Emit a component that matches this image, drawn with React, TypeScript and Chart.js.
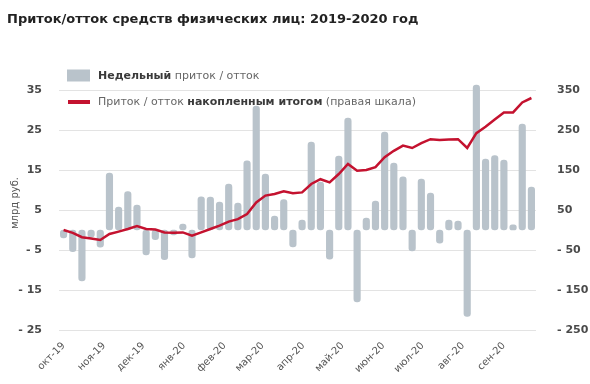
import React, { useEffect, useRef } from "react";
import { Chart, registerables } from "chart.js";

Chart.register(...registerables);

const TITLE = "Приток/отток средств физических лиц: 2019-2020 год";
const Y_TITLE = "млрд руб.";

const START_DATE = "2019-10-01";

// weekly flow, bn rub (left axis)
const weeklyFlow = [
  -2, -5.4, -12.7, -1.8, -4.3, 14.2, 5.7, 9.6, 6.2, -6.2,
  -2.4, -7.4, -1.2, 1.5, -7, 8.3, 8.2, 7, 11.5, 6.7,
  17.3, 31, 14, 3.5, 7.6, -4.2, 2.5, 22, 12, -7.3,
  18.5, 28, -18, 3, 7.2, 24.5, 16.7, 13.3, -5.2, 12.7,
  9.2, -3.3, 2.5, 2.2, -21.6, 36.2, 17.7, 18.6, 17.5, 1.3,
  26.5, 10.7,
];

// cumulative flow, bn rub (right axis)
const cumulativeFlow = [
  0, -7, -18, -21, -25, -10, -4, 2.5, 10, 2.5,
  1, -6, -7, -6, -14, -6, 2.5, 11, 21, 27,
  40, 69, 86, 90, 97, 92, 94, 115, 127, 119,
  140, 165, 148, 150, 157, 182, 198, 211, 205, 217,
  227, 225, 226, 227, 205, 242, 258, 276, 294, 294,
  319, 330,
];

const monthLabels = [
  "окт-19", "ноя-19", "дек-19", "янв-20", "фев-20", "мар-20",
  "апр-20", "май-20", "июн-20", "июл-20", "авг-20", "сен-20",
];
const monthStartDates = [
  "2019-10-01", "2019-11-01", "2019-12-01", "2020-01-01", "2020-02-01", "2020-03-01",
  "2020-04-01", "2020-05-01", "2020-06-01", "2020-07-01", "2020-08-01", "2020-09-01",
];

const legendRow1 = [
  { text: "Недельный", bold: true },
  { text: " приток / отток", bold: false },
];
const legendRow2 = [
  { text: "Приток / отток ", bold: false },
  { text: "накопленным итогом", bold: true },
  { text: " (правая шкала)", bold: false },
];

const BAR_COLOR = "#b9c3cb";
const LINE_COLOR = "#c4122f";
const FONT = '"DejaVu Sans", Verdana, sans-serif';

const DAY = 86400000;
const startMs = Date.parse(START_DATE);
const dayOffset = (d: string) => Math.round((Date.parse(d) - startMs) / DAY);
const monthTickDays = monthStartDates.map(dayOffset);
const weekDays = weeklyFlow.map((_, i) => i * 7);

const fmt = (v: number) => (v < 0 ? "- " + Math.abs(v) : String(v));

const overlayPlugin = {
  id: "overlay",
  afterDraw(chart: any) {
    const ctx = chart.ctx as CanvasRenderingContext2D;
    ctx.save();
    ctx.textBaseline = "middle";
    ctx.textAlign = "left";
    // title
    ctx.font = `bold 13px ${FONT}`;
    ctx.fillStyle = "#222";
    ctx.fillText(TITLE, 7, 20);

    // y axis title
    ctx.save();
    ctx.translate(15, 203);
    ctx.rotate(-Math.PI / 2);
    ctx.textAlign = "center";
    ctx.font = `10px ${FONT}`;
    ctx.fillStyle = "#555";
    ctx.fillText(Y_TITLE, 0, 0);
    ctx.restore();

    // legend
    ctx.fillStyle = BAR_COLOR;
    ctx.fillRect(67, 69.5, 23, 12);
    ctx.fillStyle = LINE_COLOR;
    ctx.fillRect(68, 100, 22, 4);

    const drawRow = (segs: { text: string; bold: boolean }[], x: number, y: number) => {
      let cx = x;
      for (const s of segs) {
        ctx.font = `${s.bold ? "bold " : ""}11px ${FONT}`;
        ctx.fillStyle = s.bold ? "#3a3a3a" : "#666";
        ctx.fillText(s.text, cx, y);
        cx += ctx.measureText(s.text).width;
      }
    };
    drawRow(legendRow1, 98, 76);
    drawRow(legendRow2, 98, 102.5);
    ctx.restore();
  },
};

export default function App() {
  const ref = useRef<HTMLCanvasElement | null>(null);

  useEffect(() => {
    document.body.style.margin = "0";
    if (!ref.current) return;
    const chart = new Chart(ref.current, {
      type: "bar",
      data: {
        datasets: [
          {
            type: "line",
            label: "cumulative",
            data: weekDays.map((x, i) => ({ x, y: cumulativeFlow[i] })),
            yAxisID: "y1",
            xAxisID: "x",
            borderColor: LINE_COLOR,
            borderWidth: 2.5,
            pointRadius: 0,
            tension: 0,
            order: 0,
            clip: false as any,
          } as any,
          {
            type: "bar",
            label: "weekly",
            data: weekDays.map((x, i) => ({ x, y: weeklyFlow[i] })),
            yAxisID: "y",
            xAxisID: "x",
            backgroundColor: BAR_COLOR,
            barThickness: 6.5,
            borderRadius: 3.5,
            borderSkipped: false,
            order: 1,
            clip: false as any,
          } as any,
        ],
      },
      options: {
        animation: false,
        responsive: false,
        maintainAspectRatio: false,
        layout: { padding: { top: 90, left: 0, right: 0, bottom: 0 } },
        plugins: {
          legend: { display: false },
          tooltip: { enabled: false },
          title: { display: false },
        },
        scales: {
          x: {
            type: "linear",
            offset: false,
            min: -3.5,
            max: 360.5,
            grid: { display: false, offset: false },
            border: { display: false },
            afterBuildTicks: (scale: any) => {
              scale.ticks = monthTickDays.map((v) => ({ value: v }));
            },
            afterFit: (scale: any) => {
              scale.height = 54;
              scale.paddingLeft = 0;
              scale.paddingRight = 0;
            },
            ticks: {
              autoSkip: false,
              minRotation: 45,
              maxRotation: 45,
              padding: 2,
              color: "#555",
              font: { family: FONT, size: 10 },
              callback: (_v: any, i: number) => monthLabels[i],
            },
          },
          y: {
            position: "left",
            min: -25,
            max: 35,
            grid: { color: "#e3e3e3", drawTicks: false, lineWidth: 1 },
            border: { display: false },
            afterFit: (scale: any) => {
              scale.width = 59;
            },
            ticks: {
              stepSize: 10,
              padding: 17,
              color: "#4a4a4a",
              font: { family: FONT, size: 11, weight: "bold" },
              callback: (v: any) => fmt(Number(v)),
            },
          },
          y1: {
            position: "right",
            min: -250,
            max: 350,
            grid: { display: false, drawTicks: false },
            border: { display: false },
            afterFit: (scale: any) => {
              scale.width = 54;
            },
            ticks: {
              stepSize: 100,
              padding: 21,
              color: "#4a4a4a",
              font: { family: FONT, size: 11, weight: "bold" },
              callback: (v: any) => fmt(Number(v)),
            },
          },
        },
      },
      plugins: [overlayPlugin],
    } as any);
    return () => chart.destroy();
  }, []);

  return (
    <div style={{ width: 590, height: 384, background: "#fff" }}>
      <canvas ref={ref} width={590} height={384} />
    </div>
  );
}
